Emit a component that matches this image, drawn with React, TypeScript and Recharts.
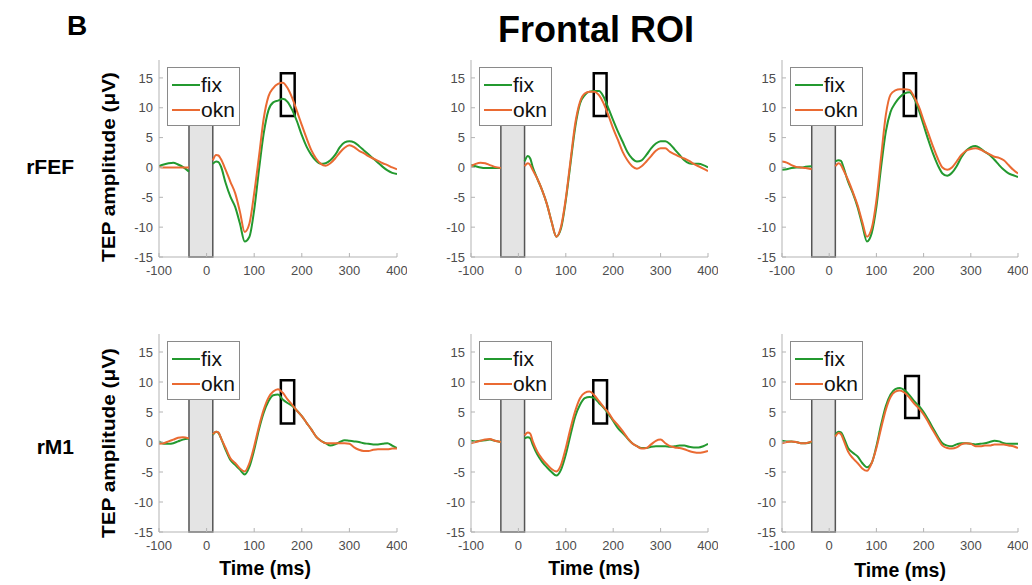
import React from "react"
import { LineChart, Line, XAxis, YAxis, ReferenceArea, Legend } from "recharts"

// time points (ms); -10 is inside the TMS pulse window and stays empty
const TIME = [
  -100, -90, -80, -70, -60, -50, -37, -10, 13, 20, 25,
  30, 40, 50, 60, 70, 80, 90, 100, 110, 120, 130, 140, 150, 160, 170, 180, 190, 200,
  210, 220, 230, 240, 250, 260, 270, 280, 290, 300, 310, 320, 330, 340, 350, 360, 370, 380, 390, 400,
]
const X_TICKS = [-100, 0, 100, 200, 300, 400]
const Y_TICKS = [-15, -10, -5, 0, 5, 10, 15]
const PULSE = [-37, 13]

// rFEF row
const FEF1_FIX = [
  0.25, 0.5, 0.7, 0.8, 0.5, 0.1, -0.7, null, 0.6, 1.0, 0.9,
  0.2, -2.6, -4.9, -6.6, -9.4, -12.4, -11.6, -7.1, -0.4, 5.7, 9.6, 10.9, 11.2, 11.5, 11.0, 9.6, 7.7, 5.4,
  3.5, 2.1, 1.1, 0.6, 0.7, 1.2, 2.1, 3.4, 4.2, 4.4, 4.2, 3.6, 2.9, 2.2, 1.5, 0.8, 0.1, -0.5, -0.9, -1.1,
]
const FEF1_OKN = [
  0.1, 0.0, 0.0, 0.0, 0.0, 0.0, 0.0, null, 1.2, 2.1, 2.0,
  1.4, -0.4, -2.4, -4.3, -7.4, -10.8, -9.4, -4.3, 1.8, 8.2, 11.9, 13.3, 14.0, 14.2, 13.3, 11.6, 9.4, 7.1,
  4.9, 2.9, 1.5, 0.6, 0.3, 0.7, 1.5, 2.5, 3.3, 3.7, 3.4, 2.8, 2.4, 1.9, 1.5, 1.1, 0.7, 0.4, 0.0, -0.3,
]
const FEF2_FIX = [
  0.4, 0.2, 0.0, -0.1, -0.1, -0.1, -0.1, null, 1.0, 1.9, 1.5,
  0.1, -1.9, -3.8, -6.1, -9.1, -11.6, -10.2, -5.5, 0.7, 6.8, 10.7, 12.1, 12.7, 12.8, 12.8, 11.8, 9.9, 7.9,
  6.0, 4.3, 2.6, 1.5, 1.0, 1.2, 2.1, 3.2, 4.0, 4.4, 4.4, 3.9, 3.0, 2.1, 1.2, 0.7, 0.6, 0.6, 0.4, 0.0,
]
const FEF2_OKN = [
  0.2, 0.6, 0.8, 0.7, 0.4, 0.1, -0.1, null, 0.2, 0.7, 0.4,
  -0.4, -1.9, -3.8, -6.1, -9.1, -11.6, -9.9, -5.2, 1.2, 7.4, 11.0, 12.4, 12.7, 12.7, 12.1, 10.7, 8.7, 6.5,
  4.6, 2.6, 1.2, 0.2, -0.2, 0.2, 1.0, 1.9, 2.8, 3.2, 3.2, 2.6, 2.2, 1.8, 1.5, 1.1, 0.6, 0.2, -0.2, -0.6,
]
const FEF3_FIX = [
  -0.4, -0.3, -0.1, 0.0, 0.0, 0.1, 0.2, null, 1.0, 1.2, 1.1,
  0.1, -2.4, -4.3, -6.6, -9.6, -12.4, -11.0, -6.6, 0.1, 6.0, 9.3, 10.8, 11.8, 12.4, 12.6, 11.6, 9.6, 7.1,
  4.6, 2.3, 0.4, -1.0, -1.4, -0.9, 0.2, 1.7, 2.8, 3.4, 3.6, 3.2, 2.6, 2.1, 1.3, 0.4, -0.4, -1.0, -1.3, -1.6,
]
const FEF3_OKN = [
  1.0, 0.8, 0.4, 0.1, 0.0, -0.1, -0.3, null, 0.2, 0.7, 0.4,
  -0.4, -2.1, -4.1, -6.3, -9.1, -11.6, -10.2, -5.5, 1.8, 8.8, 12.2, 12.9, 13.1, 13.1, 13.0, 11.8, 10.2, 7.9,
  5.7, 3.5, 1.5, 0.0, -0.4, 0.0, 1.0, 2.1, 2.8, 3.1, 3.2, 3.0, 2.6, 2.2, 1.8, 1.6, 1.2, 0.4, -0.4, -1.0,
]

// rM1 row
const M1_1_FIX = [
  0.1, -0.3, -0.3, -0.2, 0.1, 0.4, 0.6, null, 1.2, 1.7, 1.5,
  0.7, -1.3, -3.0, -3.8, -4.6, -5.4, -4.1, -1.3, 2.1, 4.9, 6.8, 7.8, 7.9, 7.1, 6.5, 6.0, 5.2, 4.3,
  3.2, 2.1, 0.9, 0.2, -0.2, -0.6, -0.4, 0.0, 0.3, 0.2, 0.1, 0.0, -0.2, -0.3, -0.4, -0.4, -0.3, -0.2, -0.6, -1.0,
]
const M1_1_OKN = [
  -0.3, -0.2, 0.1, 0.4, 0.7, 0.8, 0.6, null, 1.3, 1.7, 1.6,
  0.7, -1.0, -2.7, -3.5, -4.4, -4.9, -3.5, -0.7, 2.6, 5.4, 7.4, 8.4, 8.8, 8.2, 7.1, 6.2, 5.2, 4.3,
  3.2, 2.1, 0.9, 0.2, -0.2, -0.2, -0.2, -0.2, -0.2, -0.3, -0.9, -1.3, -1.5, -1.5, -1.3, -1.2, -1.2, -1.2, -1.1, -1.1,
]
const M1_2_FIX = [
  0.2, 0.1, 0.2, 0.3, 0.4, 0.2, 0.0, null, 0.6, 0.8, 0.6,
  -0.4, -2.1, -3.3, -4.2, -5.0, -5.6, -4.6, -2.1, 1.2, 4.3, 6.2, 7.3, 7.5, 7.3, 6.5, 5.7, 4.7, 3.5,
  2.3, 1.5, 0.6, -0.2, -0.7, -1.0, -1.0, -0.8, -0.7, -0.7, -0.7, -0.8, -0.7, -0.6, -0.6, -0.8, -0.9, -0.9, -0.7, -0.3,
]
const M1_2_OKN = [
  -0.2, 0.0, 0.2, 0.4, 0.5, 0.2, 0.0, null, 1.1, 1.6, 1.4,
  0.2, -1.6, -2.8, -3.7, -4.5, -4.9, -3.8, -1.0, 2.3, 5.2, 7.3, 8.2, 8.4, 7.8, 6.8, 5.8, 4.9, 3.7,
  2.8, 1.8, 0.7, -0.2, -0.7, -1.1, -1.0, -0.4, 0.2, 0.4, -0.2, -0.7, -0.9, -1.0, -1.2, -1.5, -1.7, -1.8, -1.7, -1.5,
]
const M1_3_FIX = [
  0.2, 0.1, 0.1, 0.0, -0.2, -0.2, 0.0, null, 1.2, 1.7, 1.6,
  0.9, -1.0, -1.8, -2.4, -3.5, -4.2, -3.5, -0.7, 2.9, 6.0, 7.9, 8.8, 9.0, 8.6, 7.8, 6.8, 6.0, 5.0,
  3.7, 2.3, 0.9, -0.2, -0.6, -0.7, -0.4, -0.2, -0.2, -0.3, -0.4, -0.3, -0.2, 0.0, 0.2, 0.1, -0.2, -0.3, -0.3, -0.3,
]
const M1_3_OKN = [
  -0.2, 0.0, 0.1, 0.0, -0.2, -0.2, 0.1, null, 0.9, 1.5, 1.3,
  0.4, -1.6, -2.7, -3.5, -4.4, -4.8, -3.5, -1.0, 2.3, 5.4, 7.5, 8.4, 8.6, 8.2, 7.4, 6.4, 5.6, 4.6,
  3.3, 1.9, 0.6, -0.6, -1.0, -1.1, -0.9, -0.4, -0.2, -0.3, -0.7, -0.7, -0.6, -0.6, -0.4, -0.4, -0.4, -0.6, -0.7, -1.0,
]

// black analysis windows (ms, µV)
const WIN_TIME = [[156, 185], [159, 186], [158, 184], [156, 184], [158, 187], [161, 190]]
const WIN_AMP = [[8.6, 15.8], [8.6, 15.8], [8.6, 15.8], [3.1, 10.3], [3.1, 10.3], [4.0, 11.0]]

const FIX_COLOR = "#23992f"
const OKN_COLOR = "#ea6a32"
const AXIS = "#b3b3b3"
const TICK = "#4d4d4d"
const FONT = "'Liberation Sans', Arial, sans-serif"

const COL_LEFT = [159, 471, 782]
const COL_W = [238, 237, 236]
const ROW_TOP = [60, 334]
const ROW_H = [197, 198]

const SERIES = [
  [FEF1_FIX, FEF1_OKN], [FEF2_FIX, FEF2_OKN], [FEF3_FIX, FEF3_OKN],
  [M1_1_FIX, M1_1_OKN], [M1_2_FIX, M1_2_OKN], [M1_3_FIX, M1_3_OKN],
]

function LegendBox() {
  return (
    <svg width={73} height={59} style={{ display: "block" }}>
      <rect x={0.5} y={0.5} width={72} height={58} fill="#fff" stroke="#8a8a8a" />
      <line x1={5} x2={33} y1={18} y2={18} stroke={FIX_COLOR} strokeWidth={2} />
      <text x={34} y={25} fontSize={21} fill="#111" fontFamily={FONT}>fix</text>
      <line x1={5} x2={33} y1={43} y2={43} stroke={OKN_COLOR} strokeWidth={2} />
      <text x={34} y={50} fontSize={21} fill="#111" fontFamily={FONT}>okn</text>
    </svg>
  )
}

function Panel({ idx }: { idx: number }) {
  const row = Math.floor(idx / 3)
  const col = idx % 3
  const w = COL_W[col]
  const h = ROW_H[row]
  const [fix, okn] = SERIES[idx]
  const data = TIME.map((t, i) => ({ t, fix: fix[i], okn: okn[i] }))
  const blank = () => ""

  return (
    <div style={{ position: "absolute", left: COL_LEFT[col] - 40, top: ROW_TOP[row] - 10 }}>
      <LineChart width={w + 50} height={h + 40} data={data} margin={{ top: 10, right: 10, bottom: 0, left: 0 }}>
        <XAxis
          dataKey="t"
          type="number"
          domain={[-100, 400]}
          ticks={X_TICKS}
          height={30}
          stroke={AXIS}
          tickSize={-4}
          tickMargin={13}
          tick={{ fill: TICK, fontSize: 13 }}
          allowDataOverflow
        />
        <XAxis
          xAxisId="top"
          orientation="top"
          type="number"
          domain={[-100, 400]}
          ticks={X_TICKS}
          height={0}
          stroke={AXIS}
          tickSize={-4}
          tickFormatter={blank}
          allowDataOverflow
        />
        <YAxis
          type="number"
          domain={[-15, 18]}
          ticks={Y_TICKS}
          width={40}
          stroke={AXIS}
          tickSize={-4}
          tickMargin={10}
          tick={{ fill: TICK, fontSize: 13 }}
          allowDataOverflow
        />
        <YAxis
          yAxisId="right"
          orientation="right"
          type="number"
          domain={[-15, 18]}
          ticks={Y_TICKS}
          width={0}
          stroke={AXIS}
          tickSize={-4}
          tickFormatter={blank}
          allowDataOverflow
        />
        <ReferenceArea
          x1={PULSE[0]}
          x2={PULSE[1]}
          y1={-15}
          y2={10}
          fill="#e4e4e4"
          fillOpacity={1}
          stroke="#555"
          strokeWidth={1.5}
        />
        <Line type="monotone" dataKey="fix" stroke={FIX_COLOR} strokeWidth={2} dot={false} isAnimationActive={false} />
        <Line type="monotone" dataKey="okn" stroke={OKN_COLOR} strokeWidth={2} dot={false} isAnimationActive={false} />
        <ReferenceArea
          x1={WIN_TIME[idx][0]}
          x2={WIN_TIME[idx][1]}
          y1={WIN_AMP[idx][0]}
          y2={WIN_AMP[idx][1]}
          fill="none"
          stroke="#000"
          strokeWidth={2.5}
        />
        <Legend
          layout="vertical"
          align="center"
          verticalAlign="middle"
          content={() => <LegendBox />}
          wrapperStyle={{ left: 48, top: 17, width: 73, height: 59 }}
        />
      </LineChart>
    </div>
  )
}

export default function App() {
  return (
    <div style={{ position: "absolute", left: 0, top: 0, width: 1032, height: 585, background: "#fff", fontFamily: FONT }}>
      {[0, 1, 2, 3, 4, 5].map((i) => (
        <Panel key={i} idx={i} />
      ))}
      <svg width={1032} height={585} style={{ position: "absolute", left: 0, top: 0, pointerEvents: "none" }}>
        <g fontFamily={FONT} fontWeight="bold" fill="#000">
          <text x={67} y={35} fontSize={28}>B</text>
          <text x={596} y={42} fontSize={36} textAnchor="middle">Frontal ROI</text>
          <text x={74} y={174} fontSize={21} textAnchor="end">rFEF</text>
          <text x={74} y={454} fontSize={21} textAnchor="end">rM1</text>
          <text x={115} y={167} fontSize={18} textAnchor="middle" textLength={190} lengthAdjust="spacingAndGlyphs" transform="rotate(-90 115 167)">TEP amplitude (μV)</text>
          <text x={115} y={443} fontSize={18} textAnchor="middle" textLength={190} lengthAdjust="spacingAndGlyphs" transform="rotate(-90 115 443)">TEP amplitude (μV)</text>
          <text x={265} y={575} fontSize={19.5} textAnchor="middle">Time (ms)</text>
          <text x={594} y={575} fontSize={19.5} textAnchor="middle">Time (ms)</text>
          <text x={900} y={577} fontSize={19.5} textAnchor="middle">Time (ms)</text>
        </g>
      </svg>
    </div>
  )
}
